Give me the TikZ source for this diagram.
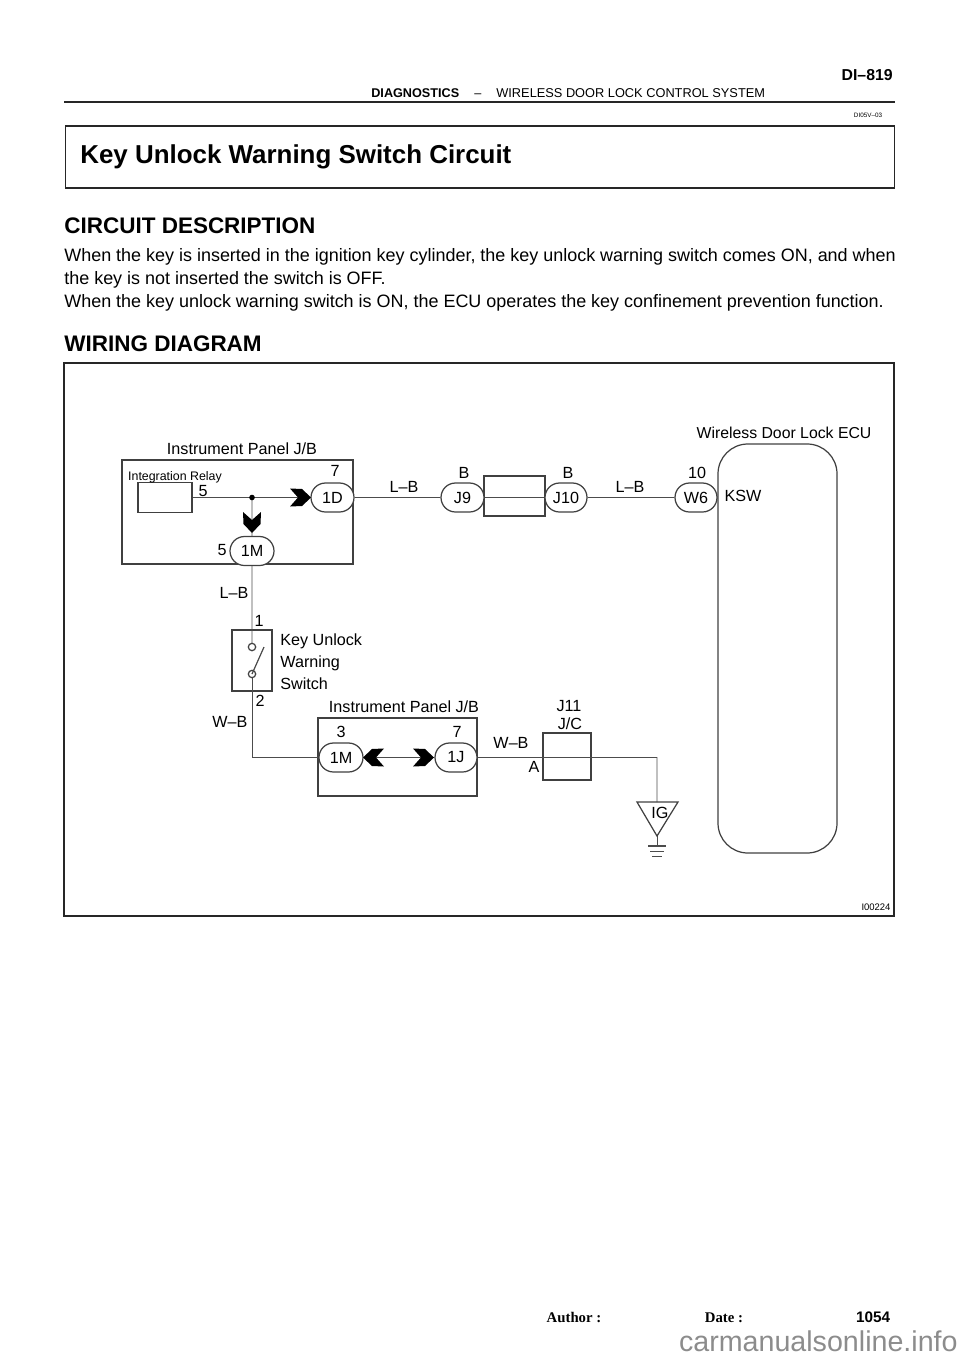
\documentclass[tikz,border=0pt]{standalone}
\usepackage{fontspec}
\setmainfont{Liberation Sans}
\newfontfamily\footfont{Liberation Serif}
\usepackage{tikz}
\usetikzlibrary{shapes.misc,calc}
\definecolor{wirecol}{gray}{.3}
\definecolor{framecol}{gray}{.25}
\tikzset{
	wire/.style={draw=wirecol, line width=.55pt},
	frame/.style={draw=framecol, line width=.7pt},
	pagebox/.style={draw=black!85, line width=.9pt},
	conn/.style={rounded rectangle, draw=framecol, line width=.7pt, fill=white, minimum height=16.5pt, inner sep=0pt, font=\fontsize{9.2}{9.2}\selectfont},
	lab/.style={inner sep=0pt, font=\fontsize{9.2}{9.2}\selectfont},
	body/.style={anchor=base west, inner sep=0pt, font=\fontsize{10.22}{10.22}\selectfont},
	head/.style={anchor=base west, inner sep=0pt, font=\fontsize{12.8}{12.8}\selectfont\bfseries},
	pics/wiretip/.style={code={
		\fill[black] (0,0) -- (-9,-8.5) -- (-21,-9) -- (-13,0) -- (-21,9) -- (-9,8.5) -- cycle;
	}}
}
\begin{document}
\begin{tikzpicture}[x=.02cm, y=-.02cm]
	\path [use as bounding box] (0,0) rectangle (960,1358);

	\node[inner sep=0pt, anchor=base east, font=\fontsize{9}{9}\selectfont\bfseries] (pageno) at (893,81) {DI–819};
	\node[inner sep=0pt, anchor=base west, font=\fontsize{7.2}{7.2}\selectfont\bfseries] (chapter) at (371,98) {DIAGNOSTICS};
	\node[inner sep=0pt, anchor=base west, font=\fontsize{7.2}{7.2}\selectfont] (dash) at (474,98) {–};
	\node[inner sep=0pt, anchor=base west, font=\fontsize{7.28}{7.28}\selectfont] (section) at (496,98) {WIRELESS DOOR LOCK CONTROL SYSTEM};
	\draw[pagebox, line width=1.1pt] (64,102) -- (895,102);
	\node[inner sep=0pt, font=\fontsize{3.6}{3.6}\selectfont] (docid) at (868,115) {DI05V–03};

	\node[pagebox, rectangle, minimum width=829*.02cm, minimum height=62*.02cm, anchor=north west, inner sep=0pt] (titlebox) at (64.5,125.5) {};
	\node[head, font=\fontsize{14.75}{14.75}\selectfont\bfseries] (title) at (80,164) {Key Unlock Warning Switch Circuit};
	\node[head] (circuit) at (64,234) {CIRCUIT DESCRIPTION};
	\node[body] (line1) at (64,262) {When the key is inserted in the ignition key cylinder, the key unlock warning switch comes ON, and when};
	\node[body] (line2) at (64,285) {the key is not inserted the switch is OFF.};
	\node[body] (line3) at (64,308) {When the key unlock warning switch is ON, the ECU operates the key confinement prevention function.};
	\node[head] (wiring) at (64,351) {WIRING DIAGRAM};

	\draw[pagebox] (64,363) rectangle (894,916);
	\node[inner sep=0pt, font=\fontsize{5.4}{5.4}\selectfont] (figid) at (876,907) {I00224};

	\draw[frame] (122,460) rectangle (353,564);
	\draw[frame] (318,718) rectangle (477,796);
	\draw[frame, rounded corners=17pt] (718,444) rectangle (837,853);

	\node[rectangle, frame, minimum width=54*.02cm, minimum height=30*.02cm, inner sep=0pt] (relay) at (165,497.5) {};
	\node[rectangle, frame, minimum width=61*.02cm, minimum height=40*.02cm, inner sep=0pt] (joint) at (514.5,496) {};
	\node[rectangle, frame, minimum width=48*.02cm, minimum height=47*.02cm, inner sep=0pt] (jc) at (567,756.5) {};
	\node[rectangle, frame, minimum width=40*.02cm, minimum height=61*.02cm, inner sep=0pt] (switch) at (252,660.5) {};

	\coordinate (branch) at (252,497.5);
	\coordinate (upper) at (252,647);
	\coordinate (lower) at (252,674);
	\coordinate (corner) at (252,757.5);
	\coordinate (turn) at (657,757.5);
	\coordinate (gndtop) at (657,802);
	\coordinate (gndtip) at (657,836);
	\coordinate (gnd) at (657,846);

	\node[conn, minimum width=43*.02cm] (c1D) at (332.5,497.5) {1D};
	\node[conn, minimum width=44*.02cm] (c1Ma) at (252,551) {1M};
	\node[conn, minimum width=43*.02cm] (cJ9) at (462.5,497.5) {J9};
	\node[conn, minimum width=42*.02cm] (cJ10) at (566,497.5) {J10};
	\node[conn, minimum width=42*.02cm] (cW6) at (696,497.5) {W6};
	\node[conn, minimum width=44*.02cm] (c1Mb) at (341,757.5) {1M};
	\node[conn, minimum width=42*.02cm] (c1J) at (456,757.5) {1J};

	\draw[wire] (relay) -- (c1D);
	\draw[wire] (branch) -- (c1Ma);
	\draw[wire] (c1D) -- (cJ9);
	\draw[wire] (cJ9) -- (cJ10);
	\draw[wire] (cJ10) -- (cW6);
	\draw[wire] (c1Ma) -- (upper);
	\draw[wire] (lower) -- (corner) -- (c1Mb);
	\draw[wire] (c1Mb) -- (c1J);
	\draw[wire] (c1J) -- (turn) -- (gndtop);
	\draw[wire] (gndtip) -- (gnd);

	\foreach \tipx/\tipy/\tipangle in {311/497.5/0, 252/533/-90, 363/757.5/180, 434/757.5/0}
		\pic[rotate=\tipangle] at (\tipx,\tipy) {wiretip};
	\fill[black] (branch) circle (1.6pt);

	\draw[frame, fill=white] (upper) circle (2.1pt);
	\draw[frame, fill=white] (lower) circle (2.1pt);
	\draw[wire, line width=.7pt] (lower) -- (264,647);

	\draw[frame] (637,802) -- (678,802) -- (gndtip) -- cycle;
	\draw[wire, line width=.8pt] (648,846) -- (666,846);
	\draw[wire] (650,851) -- (664,851);
	\draw[wire] (652,856) -- (662,856);

	\node[lab] (panelA) at (242,449) {Instrument Panel J/B};
	\node[lab, font=\fontsize{7.05}{7.05}\selectfont] (relaytxt) at (175,477) {Integration Relay};
	\node[lab] (pin5a) at (203,491) {5};
	\node[lab] (pin7a) at (335,471) {7};
	\node[lab] (lbA) at (404,487) {L–B};
	\node[lab] (bA) at (464,473) {B};
	\node[lab] (bB) at (568,473) {B};
	\node[lab] (lbB) at (630,487) {L–B};
	\node[lab] (pin10) at (697,473) {10};
	\node[lab] (ksw) at (743,496) {KSW};
	\node[lab, font=\fontsize{9}{9}\selectfont] (ecu) at (784,433) {Wireless Door Lock ECU};
	\node[lab] (pin5b) at (222,550) {5};
	\node[lab] (lbC) at (234,593) {L–B};
	\node[lab] (pin1) at (259,621) {1};
	\node[lab, anchor=west] (keytxt) at (280,641) {Key Unlock};
	\node[lab, anchor=west] (warntxt) at (280,663) {Warning};
	\node[lab, anchor=west] (switchtxt) at (280,684) {Switch};
	\node[lab] (pin2) at (260,701) {2};
	\node[lab] (wbA) at (230,722) {W–B};
	\node[lab] (panelB) at (404,707) {Instrument Panel J/B};
	\node[lab] (j11) at (569,706) {J11};
	\node[lab] (jctxt) at (570,724) {J/C};
	\node[lab] (pin3) at (341,732) {3};
	\node[lab] (pin7b) at (457,732) {7};
	\node[lab] (wbB) at (511,743) {W–B};
	\node[lab] (pinA) at (534,767) {A};
	\node[lab] (ig) at (660,813) {IG};

	\node[inner sep=0pt, anchor=base, font=\footfont\fontsize{8.4}{8.4}\selectfont\bfseries] (author) at (574,1322) {Author :};
	\node[inner sep=0pt, anchor=base, font=\footfont\fontsize{8.4}{8.4}\selectfont\bfseries] (date) at (724,1322) {Date :};
	\node[inner sep=0pt, anchor=base, font=\fontsize{8.7}{8.7}\selectfont\bfseries] (folio) at (873,1322) {1054};
	\node[inner sep=0pt, anchor=base east, text=black!45, font=\fontsize{16.3}{16.3}\selectfont] (site) at (958,1351) {carmanualsonline.info};
\end{tikzpicture}
\end{document}
